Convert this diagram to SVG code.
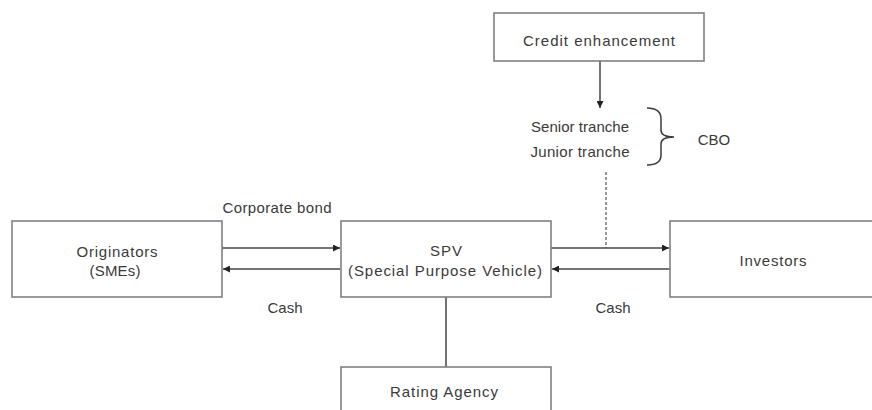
<svg xmlns="http://www.w3.org/2000/svg" width="872" height="410" viewBox="0 0 872 410">
  <style>
    .box { fill: #ffffff; stroke: #808080; stroke-width: 1.6; }
    .lbl { font-family: "Liberation Sans", Arial, sans-serif; font-size: 15px; fill: #3a3a3a; text-anchor: middle; }
    .link { stroke: #444444; stroke-width: 1.5; fill: none; }
    .dash { stroke: #555555; stroke-width: 1.2; stroke-dasharray: 3 2; fill: none; }
  </style>
  <defs>
    <marker id="arr" viewBox="0 0 10 10" refX="10" refY="5" markerWidth="7" markerHeight="7" markerUnits="userSpaceOnUse" orient="auto">
      <path d="M0,0 L10,5 L0,10 z" fill="#222222"/>
    </marker>
  </defs>
  <rect width="872" height="410" fill="#ffffff"/>

  <!-- connectors -->
  <g id="connectors">
    <line class="link" x1="600" y1="61" x2="600" y2="108" marker-end="url(#arr)"/>
    <line class="link" x1="222" y1="248" x2="340" y2="248" marker-end="url(#arr)"/>
    <line class="link" x1="340" y1="269" x2="223" y2="269" marker-end="url(#arr)"/>
    <line class="link" x1="551" y1="248" x2="669" y2="248" marker-end="url(#arr)"/>
    <line class="link" x1="670" y1="269" x2="552" y2="269" marker-end="url(#arr)"/>
    <line class="link" x1="446" y1="297" x2="446" y2="367"/>
    <line class="dash" x1="606" y1="172" x2="606" y2="248"/>
    <text class="lbl" x="277" y="213" textLength="109" lengthAdjust="spacing">Corporate bond</text>
    <text class="lbl" x="285" y="313">Cash</text>
    <text class="lbl" x="613" y="313">Cash</text>
  </g>

  <!-- credit enhancement -->
  <g id="credit-enhancement">
    <rect class="box" x="494" y="13" width="210" height="48"/>
    <text class="lbl" x="599" y="46" textLength="152" lengthAdjust="spacing">Credit enhancement</text>
  </g>

  <!-- CBO tranches -->
  <g id="cbo">
    <text class="lbl" x="580" y="132" textLength="98" lengthAdjust="spacing">Senior tranche</text>
    <text class="lbl" x="580" y="157" textLength="99" lengthAdjust="spacing">Junior tranche</text>
    <path d="M647,108 Q661,108 661,119 L661,130 Q661,137 674,137 Q661,137 661,144 L661,155 Q661,165 647,165" fill="none" stroke="#3a3a3a" stroke-width="1.5"/>
    <text class="lbl" x="714" y="145">CBO</text>
  </g>

  <!-- originators -->
  <g id="originators">
    <rect class="box" x="12" y="221" width="210" height="76"/>
    <text class="lbl" x="117" y="257" textLength="81" lengthAdjust="spacing">Originators</text>
    <text class="lbl" x="115" y="276" textLength="51" lengthAdjust="spacing">(SMEs)</text>
  </g>

  <!-- SPV -->
  <g id="spv">
    <rect class="box" x="341" y="221" width="210" height="76"/>
    <text class="lbl" x="446" y="256" textLength="32" lengthAdjust="spacing">SPV</text>
    <text class="lbl" x="445" y="276" textLength="194" lengthAdjust="spacing">(Special Purpose Vehicle)</text>
  </g>

  <!-- investors -->
  <g id="investors">
    <rect class="box" x="670" y="221" width="210" height="76"/>
    <text class="lbl" x="773" y="266" textLength="67" lengthAdjust="spacing">Investors</text>
  </g>

  <!-- rating agency -->
  <g id="rating-agency">
    <rect class="box" x="341" y="367" width="210" height="60"/>
    <text class="lbl" x="444" y="397" textLength="108" lengthAdjust="spacing">Rating Agency</text>
  </g>
</svg>
